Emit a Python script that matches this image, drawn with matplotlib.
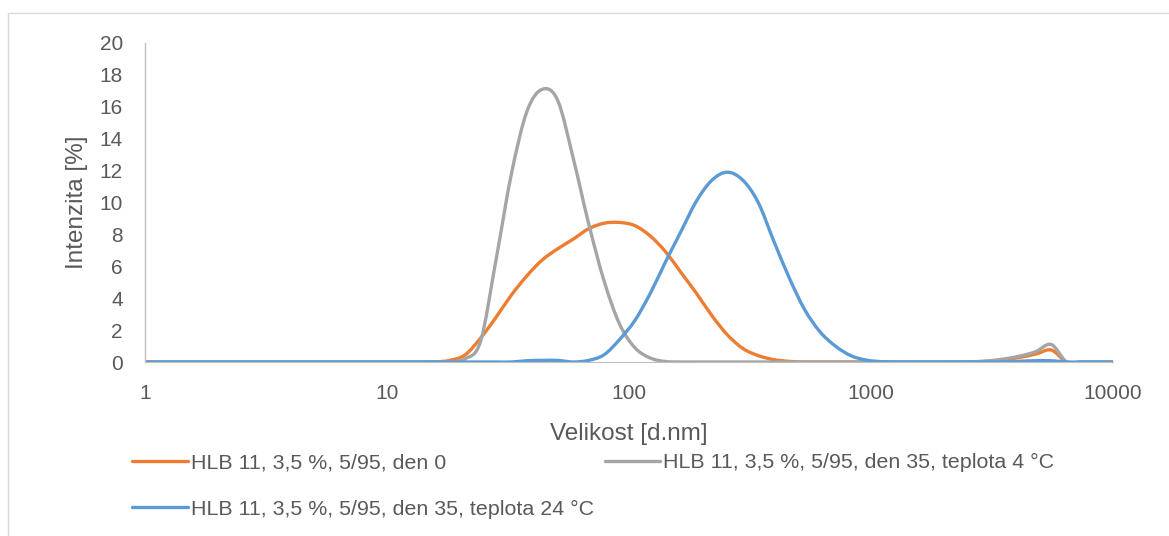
import matplotlib
matplotlib.use("Agg")
import matplotlib.pyplot as plt
import numpy as np
from matplotlib.lines import Line2D
from matplotlib.patches import PathPatch, Rectangle
from matplotlib.path import Path
from matplotlib.ticker import FixedLocator, FixedFormatter, NullLocator

plt.rcParams["font.family"] = ["Liberation Sans", "DejaVu Sans"]

# Size classes of the DLS report [d.nm]
size_nm = [
    0.4, 0.4632, 0.5365, 0.6213, 0.7195, 0.8332, 0.9649, 1.117, 1.294, 1.499,
    1.736, 2.01, 2.328, 2.696, 3.122, 3.615, 4.187, 4.849, 5.615, 6.503,
    7.531, 8.721, 10.1, 11.7, 13.54, 15.69, 18.17, 21.04, 24.36, 28.21,
    32.67, 37.84, 43.82, 50.75, 58.77, 68.06, 78.82, 91.28, 105.7, 122.4,
    141.8, 164.2, 190.1, 220.2, 255.0, 295.3, 342.0, 396.1, 458.7, 531.2,
    615.1, 712.4, 825.0, 955.4, 1106, 1281, 1484, 1718, 1990, 2305,
    2669, 3091, 3580, 4145, 4801, 5560, 6439, 7456, 8635, 10000,
]

# Intensity [%] per size class
den0 = [
    0, 0, 0, 0, 0, 0, 0, 0, 0, 0,
    0, 0, 0, 0, 0, 0, 0, 0, 0, 0,
    0, 0, 0, 0, 0, 0.0, 0.1, 0.45, 1.5, 2.8,
    4.2, 5.4, 6.4, 7.1, 7.7, 8.35, 8.7, 8.75, 8.55, 7.9,
    6.9, 5.6, 4.3, 2.9, 1.7, 0.85, 0.4, 0.15, 0.04, 0,
    0, 0, 0, 0, 0, 0, 0, 0, 0, 0,
    0.01, 0.05, 0.15, 0.3, 0.5, 0.75, 0, 0, 0, 0,
]
den35_4c = [
    0, 0, 0, 0, 0, 0, 0, 0, 0, 0,
    0, 0, 0, 0, 0, 0, 0, 0, 0, 0,
    0, 0, 0, 0, 0, 0, 0.0, 0.2, 1.3, 6.4,
    11.8, 15.7, 17.1, 16.4, 12.8, 8.7, 5.1, 2.4, 0.9, 0.25,
    0.03, 0, 0, 0, 0, 0, 0, 0, 0, 0,
    0, 0, 0, 0, 0, 0, 0, 0, 0, 0,
    0.02, 0.08, 0.2, 0.38, 0.65, 1.1, 0, 0, 0, 0,
]
den35_24c = [
    0, 0, 0, 0, 0, 0, 0, 0, 0, 0,
    0, 0, 0, 0, 0, 0, 0, 0, 0, 0,
    0, 0, 0, 0, 0, 0, 0, 0, 0, 0,
    0.0, 0.08, 0.1, 0.1, 0.0, 0.1, 0.45, 1.4, 2.6, 4.3,
    6.3, 8.2, 10.1, 11.4, 11.9, 11.4, 10.0, 7.6, 5.3, 3.3,
    1.9, 1.0, 0.4, 0.12, 0.02, 0, 0, 0, 0, 0,
    0, 0, 0, 0.05, 0.08, 0.08, 0, 0, 0, 0,
]

labels = [
    "HLB 11, 3,5 %, 5/95, den 0",
    "HLB 11, 3,5 %, 5/95, den 35, teplota 4 °C",
    "HLB 11, 3,5 %, 5/95, den 35, teplota 24 °C",
]
colors = ["#ED7D31", "#A5A5A5", "#5B9BD5"]

x_ticks = [1, 10, 100, 1000, 10000]
y_ticks = [0, 2, 4, 6, 8, 10, 12, 14, 16, 18, 20]


def smooth_path(x, y):
    """Catmull-Rom style bezier through the points, built in log10(x) space."""
    u = np.log10(np.asarray(x, float))
    v = np.asarray(y, float)
    pts = np.column_stack([u, v])
    verts = [pts[0]]
    codes = [Path.MOVETO]
    n = len(pts)
    for i in range(n - 1):
        p0 = pts[i - 1] if i > 0 else pts[i]
        p1 = pts[i]
        p2 = pts[i + 1]
        p3 = pts[i + 2] if i + 2 < n else pts[i + 1]
        c1 = p1 + (p2 - p0) / 6.0
        c2 = p2 - (p3 - p1) / 6.0
        verts += [c1, c2, p2]
        codes += [Path.CURVE4] * 3
    verts = np.array(verts)
    verts[:, 0] = 10 ** verts[:, 0]
    return Path(verts, codes)


W, H = 1169, 536
fig = plt.figure(figsize=(W / 100, H / 100), dpi=100)
ax = fig.add_axes([145 / W, 1 - 362 / H, (1113 - 145) / W, (362 - 43) / H])

ax.set_xscale("log")
ax.set_xlim(1, 10000)
ax.set_ylim(0, 20)

handles = []
for series, color, label in zip([den0, den35_4c, den35_24c], colors, labels):
    patch = PathPatch(smooth_path(size_nm, series), fill=False, edgecolor=color,
                      lw=2.4, capstyle="round", joinstyle="round")
    ax.add_patch(patch)
    handles.append(Line2D([], [], color=color, lw=2.4, solid_capstyle="round", label=label))

for side in ["top", "right"]:
    ax.spines[side].set_visible(False)
ax.spines["left"].set_color("#BFBFBF")
ax.spines["bottom"].set_color("#BFBFBF")
ax.spines["left"].set_linewidth(1.0)

ax.xaxis.set_major_locator(FixedLocator(x_ticks))
ax.xaxis.set_major_formatter(FixedFormatter([str(t) for t in x_ticks]))
ax.xaxis.set_minor_locator(NullLocator())
ax.set_yticks(y_ticks)
ax.tick_params(axis="both", length=0, labelsize=15, labelcolor="#595959")
ax.tick_params(axis="y", pad=16)
ax.tick_params(axis="x", pad=16)

ax.set_xlabel("Velikost [d.nm]", fontsize=17.5, color="#595959", labelpad=14)
ax.set_ylabel("Intenzita [%]", fontsize=17.5, color="#595959", labelpad=8)

# legend is laid out in rows: orange, gray / blue
order = [0, 2, 1]
fig.legend([handles[i] for i in order], [labels[i] for i in order],
           loc="upper left", bbox_to_anchor=(132 / W, 1 - 453 / H), ncol=2,
           frameon=False, fontsize=15.4, labelcolor="#595959",
           handlelength=2.6, handletextpad=0.15, columnspacing=0.5,
           labelspacing=1.3, borderpad=0, borderaxespad=0)

# chart area border
fig.add_artist(Rectangle((8 / W, -0.05), 1.1, 1 - 13 / H + 0.05,
                         transform=fig.transFigure, fill=False,
                         edgecolor="#D9D9D9", lw=1.0))

fig.savefig("out.png", dpi=100)
